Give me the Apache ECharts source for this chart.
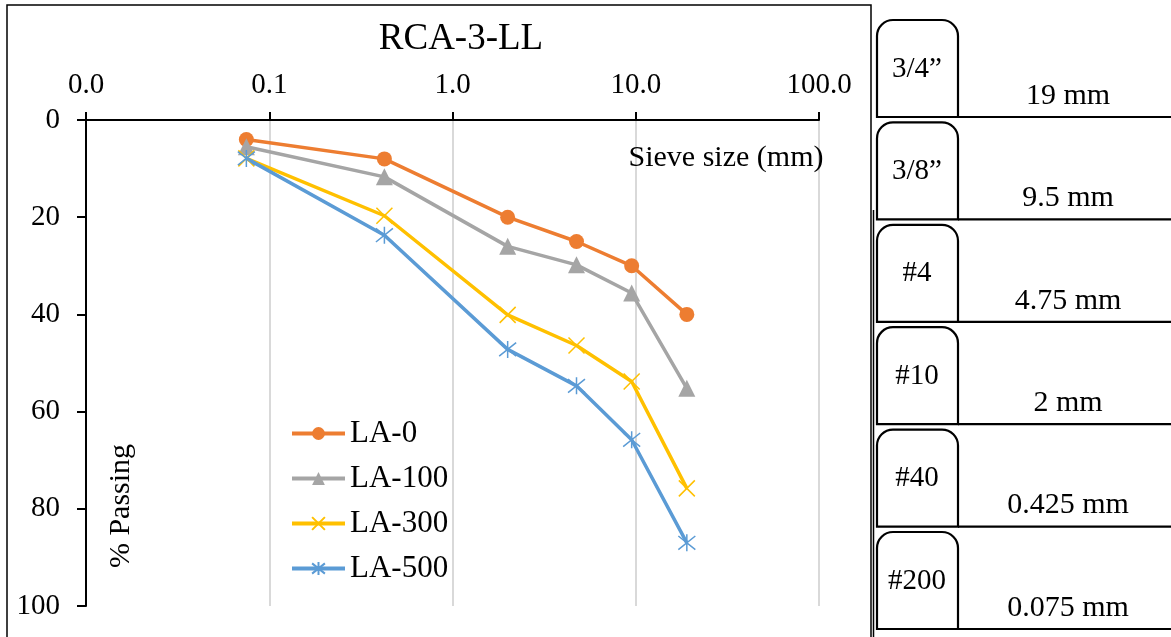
<!DOCTYPE html>
<html>
<head>
<meta charset="utf-8">
<script src="https://cdn.jsdelivr.net/npm/echarts@6/dist/echarts.min.js"></script>
<style>
  html, body { margin: 0; padding: 0; background: #fff; }
  #main { width: 1171px; height: 637px; }
</style>
</head>
<body>
<div id="main"></div>
<script>
// sieve openings (mm) and % values
var sieveSizes = [0.075, 0.425, 2, 4.75, 9.5, 19];
var la0 = [4, 8, 20, 25, 30, 40];
var la100 = [5.5, 11.7, 26, 29.8, 35.6, 55.2];
var la300 = [7.9, 19.7, 40.1, 46.4, 53.8, 75.8];
var la500 = [7.9, 23.7, 47.2, 54.7, 65.8, 87];
var seriesNames = ['LA-0', 'LA-100', 'LA-300', 'LA-500'];
var yTicks = [0, 20, 40, 60, 80, 100];

// side panel (largest sieve first)
var sieveNames = ['3/4\u201d', '3/8\u201d', '#4', '#10', '#40', '#200'];
var sieveLabels = ['19 mm', '9.5 mm', '4.75 mm', '2 mm', '0.425 mm', '0.075 mm'];

var font = 'Liberation Serif';
var crossPath = 'path://M0,0L10,10M10,0L0,10';
var starPath = 'path://M5,0L5,10M1,1L9,9M9,1L1,9';

var pairs = function (vals) {
  return sieveSizes.map(function (s, i) { return [s, vals[i]]; });
};

var lineSeries = function (name, vals, color, symbol, size, strokeMark) {
  return {
    name: name,
    type: 'line',
    data: pairs(vals),
    symbol: symbol,
    symbolSize: size,
    lineStyle: { color: color, width: 3.5 },
    itemStyle: strokeMark
      ? { color: color, borderColor: color, borderWidth: 1.5 }
      : { color: color },
    emphasis: { disabled: true },
    z: 3
  };
};

var panel = [];
// chart frame
panel.push({ type: 'rect', shape: { x: 7, y: 5, width: 864, height: 700 },
  style: { fill: 'none', stroke: '#000', lineWidth: 1.5 }, silent: true });
panel.push({ type: 'line', shape: { x1: 873.5, y1: 210, x2: 873.5, y2: 637 },
  style: { stroke: '#000', lineWidth: 1.5 }, silent: true });

for (var i = 0; i < sieveNames.length; i++) {
  var rowTop = 20 + i * 102.4;
  panel.push({ type: 'rect', shape: { x: 877, y: rowTop, width: 81, height: 97, r: [16, 16, 0, 0] },
    style: { fill: 'none', stroke: '#000', lineWidth: 2.2 }, silent: true });
  panel.push({ type: 'line', shape: { x1: 958, y1: rowTop + 97, x2: 1171, y2: rowTop + 97 },
    style: { stroke: '#000', lineWidth: 2.2 }, silent: true });
  panel.push({ type: 'text', x: 917, y: rowTop + 49,
    style: { text: sieveNames[i], font: '29px "Liberation Serif"', fill: '#000',
      align: 'center', verticalAlign: 'middle' }, silent: true });
  panel.push({ type: 'text', x: 1068, y: rowTop + 76,
    style: { text: sieveLabels[i], font: '30px "Liberation Serif"', fill: '#000',
      align: 'center', verticalAlign: 'middle' }, silent: true });
}

// axis titles placed inside the plot like the original
panel.push({ type: 'text', x: 726, y: 158,
  style: { text: 'Sieve size (mm)', font: '30px "Liberation Serif"', fill: '#000',
    align: 'center', verticalAlign: 'middle' }, silent: true, z: 10 });
panel.push({ type: 'text', x: 121, y: 506, rotation: Math.PI / 2,
  style: { text: '% Passing', font: '30px "Liberation Serif"', fill: '#000',
    align: 'center', verticalAlign: 'middle' }, silent: true, z: 10 });

var chart = echarts.init(document.getElementById('main'));
var option = {
  animation: false,
  backgroundColor: '#fff',
  title: {
    text: 'RCA-3-LL',
    left: 456,
    top: 16,
    textAlign: 'center',
    textStyle: { fontFamily: font, fontSize: 37, fontWeight: 'normal', color: '#000' }
  },
  legend: {
    orient: 'vertical',
    left: 290,
    top: 418,
    padding: 0,
    data: seriesNames,
    itemWidth: 53,
    itemHeight: 16,
    itemGap: 14,
    lineStyle: { width: 4 },
    textStyle: { fontFamily: font, fontSize: 31, color: '#000', lineHeight: 30 }
  },
  grid: { left: 86, right: 352, top: 120, bottom: 31 },
  xAxis: {
    type: 'log',
    logBase: 10,
    min: 0.01,
    max: 100,
    position: 'top',
    axisLine: { show: true, lineStyle: { color: '#000', width: 2 } },
    axisTick: { show: true, length: 8, lineStyle: { color: '#000', width: 2 } },
    axisLabel: {
      margin: 20,
      fontFamily: font, fontSize: 29, color: '#000',
      formatter: function (v) { return Number(v).toFixed(1); }
    },
    splitLine: { show: true, lineStyle: { color: '#d9d9d9', width: 2 } },
    minorTick: { show: false }
  },
  yAxis: {
    type: 'value',
    inverse: true,
    min: yTicks[0],
    max: yTicks[yTicks.length - 1],
    interval: 20,
    axisLine: { show: true, lineStyle: { color: '#000', width: 2 } },
    axisTick: { show: true, length: 9, lineStyle: { color: '#000', width: 2 } },
    axisLabel: { margin: 26, fontFamily: font, fontSize: 29, color: '#000' },
    splitLine: { show: false }
  },
  series: [
    lineSeries(seriesNames[0], la0, '#ED7D31', 'circle', 15, false),
    lineSeries(seriesNames[1], la100, '#A5A5A5', 'triangle', 17, false),
    lineSeries(seriesNames[2], la300, '#FFC000', crossPath, 16, true),
    lineSeries(seriesNames[3], la500, '#5B9BD5', starPath, 17, true)
  ],
  graphic: panel
};
chart.setOption(option);
</script>
</body>
</html>
